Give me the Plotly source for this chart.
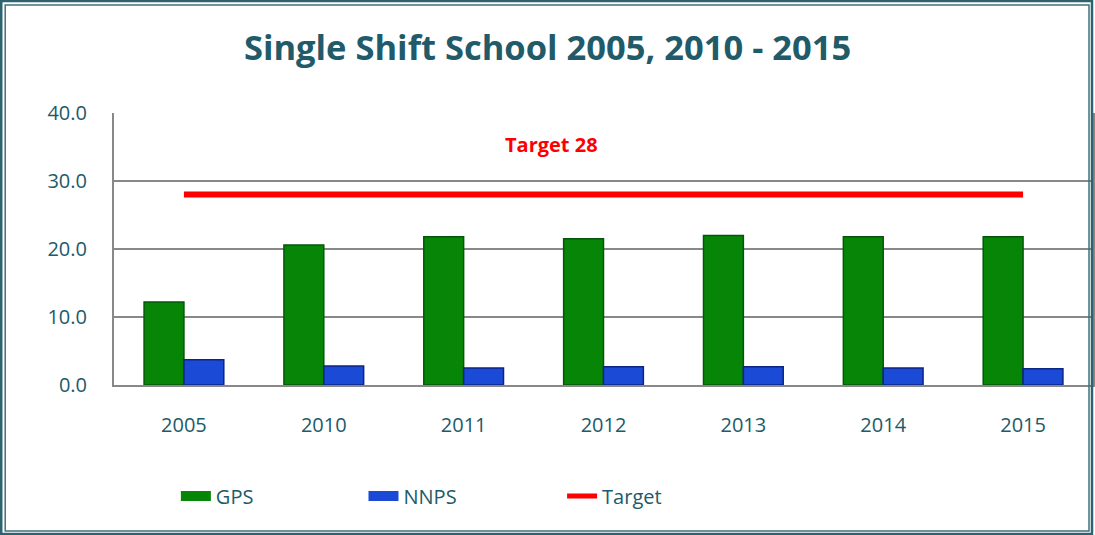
import plotly.graph_objects as go

years = ["2005", "2010", "2011", "2012", "2013", "2014", "2015"]
gps = [12.2, 20.6, 21.8, 21.5, 22.0, 21.8, 21.8]
nnps = [3.7, 2.8, 2.5, 2.7, 2.7, 2.5, 2.4]
target = [28, 28, 28, 28, 28, 28, 28]
y_ticks = [0, 10, 20, 30, 40]
y_tick_labels = ["0.0", "10.0", "20.0", "30.0", "40.0"]

TEAL = "#215A69"
FONT = "Open Sans"
GREEN = "#078507"
BLUE = "#1A4AD6"
RED = "#FF0000"

L, R, T, B = 114, 0, 113, 150
PW = 1095 - L - R
PH = 535 - T - B

fig = go.Figure()
fig.add_trace(go.Bar(
    x=years, y=gps, name="GPS", showlegend=False, legendgroup="gps",
    marker=dict(color=GREEN, line=dict(color="#04570A", width=1.5)),
))
fig.add_trace(go.Bar(
    x=years, y=nnps, name="NNPS", showlegend=False, legendgroup="nnps",
    marker=dict(color=BLUE, line=dict(color="#0B2585", width=1.5)),
))
fig.add_trace(go.Scatter(
    x=years, y=target, name="Target", mode="lines", showlegend=False,
    legendgroup="target",
    line=dict(color=RED, width=6),
))

# legend entries (one legend per entry so they can be placed like the original)
fig.add_trace(go.Scatter(x=[years[0]], y=[None], name="GPS", mode="lines",
                         legendgroup="gps", legend="legend",
                         line=dict(color=GREEN, width=10)))
fig.add_trace(go.Scatter(x=[years[0]], y=[None], name="NNPS", mode="lines",
                         legendgroup="nnps", legend="legend2",
                         line=dict(color=BLUE, width=10)))
fig.add_trace(go.Scatter(x=[years[0]], y=[None], name="Target", mode="lines",
                         legendgroup="target", legend="legend3",
                         line=dict(color=RED, width=5)))

fig.add_annotation(
    x=2.63, y=35.3, xref="x", yref="y", text="<b>Target 28</b>",
    showarrow=False, font=dict(family=FONT, size=20, color=RED),
)

def px(x):
    return (x - L) / PW

def py(y):
    return (535 - B - y) / PH

# outer double frame
fig.add_shape(type="rect", xref="paper", yref="paper",
              x0=px(1), x1=px(1094), y0=py(534), y1=py(1),
              line=dict(color="#2D6270", width=2.5))
fig.add_shape(type="rect", xref="paper", yref="paper",
              x0=px(5), x1=px(1091), y0=py(531), y1=py(5),
              line=dict(color="#3E717E", width=1.5))

leg_font = dict(family=FONT, size=20, color=TEAL)
leg_common = dict(orientation="h", xanchor="left", y=py(496), yanchor="middle",
                  font=leg_font, itemwidth=30, bgcolor="rgba(0,0,0,0)")

fig.update_layout(
    width=1095, height=535,
    margin=dict(l=L, r=R, t=T, b=B),
    paper_bgcolor="white", plot_bgcolor="white",
    title=dict(text="<b>Single Shift School 2005, 2010 - 2015</b>",
               x=0.5, xref="container", y=0.91, yref="container",
               xanchor="center", yanchor="middle",
               font=dict(family=FONT, size=34.5, color=TEAL)),
    barmode="group", bargap=0.43, bargroupgap=0,
    font=dict(family=FONT, color=TEAL),
    legend=dict(x=px(176), **leg_common),
    legend2=dict(x=px(364), **leg_common),
    legend3=dict(x=px(563), **leg_common),
    showlegend=True,
)
fig.update_xaxes(
    showline=True, linecolor="#888888", linewidth=2,
    tickfont=dict(family=FONT, size=20, color=TEAL),
    ticks="outside", ticklen=0, ticklabelstandoff=21,
    showgrid=False,
)
fig.update_yaxes(
    range=[0, 40], tickvals=y_ticks, ticktext=y_tick_labels,
    showline=True, linecolor="#888888", linewidth=2, mirror=True,
    gridcolor="#888888", gridwidth=2,
    tickfont=dict(family=FONT, size=20, color=TEAL),
    ticks="outside", ticklen=0, ticklabelstandoff=21,
    zeroline=False,
)

fig.write_html("out.html", config={"displayModeBar": False},
               post_script="document.body.style.margin='0';")
